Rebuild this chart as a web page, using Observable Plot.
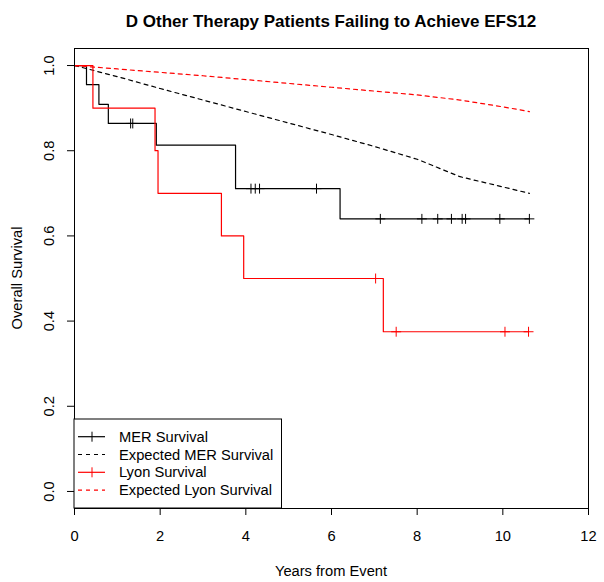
<!DOCTYPE html>
<html><head><meta charset="utf-8">
<script src="https://cdn.jsdelivr.net/npm/d3@7"></script>
<script src="https://cdn.jsdelivr.net/npm/@observablehq/plot@0.6"></script>
<style>
body{margin:0;background:#fff;}
#chart{position:relative;width:604px;height:582px;}
</style>
</head><body><div id="chart"></div>
<script>
// ---- data ----
const titleText = "D Other Therapy Patients Failing to Achieve EFS12";
const xLabel = "Years from Event";
const yLabel = "Overall Survival";
const xTicks = [0, 2, 4, 6, 8, 10, 12];
const yTicks = [0, 0.2, 0.4, 0.6, 0.8, 1.0];

// MER Kaplan-Meier
const merTimes = [0, 0.28, 0.57, 0.79, 1.91, 3.76, 6.20, 10.62];
const merSurv  = [1, 0.955, 0.909, 0.864, 0.813, 0.711, 0.640, 0.640];
const merCensorTimes = [1.31, 1.36, 4.12, 4.22, 4.32, 5.65, 7.14, 8.11, 8.48, 8.80, 9.05, 9.13, 9.93, 10.62];

// Lyon Kaplan-Meier
const lyonTimes = [0, 0.43, 1.88, 1.95, 3.43, 3.95, 7.21, 10.60];
const lyonSurv  = [1, 0.90, 0.80, 0.70, 0.60, 0.50, 0.375, 0.375];
const lyonCensorTimes = [7.03, 7.51, 10.05, 10.60];

// Expected survival curves
const expYears = [0, 1, 2, 3, 4, 5, 6, 7, 8, 9, 10, 10.62];
const expMer   = [1, 0.974, 0.946, 0.919, 0.892, 0.865, 0.838, 0.810, 0.780, 0.739, 0.715, 0.700];
const expLyon  = [1, 0.992, 0.984, 0.976, 0.967, 0.958, 0.949, 0.940, 0.931, 0.919, 0.903, 0.892];

// Legend
const legendLabels = ["MER Survival", "Expected MER Survival", "Lyon Survival", "Expected Lyon Survival"];
const legendColors = ["black", "black", "red", "red"];
const legendDashed = [false, true, false, true];
const legendPlus   = [true, false, true, false];

(function () {
// ---- tables ----
const rows = (ts, ss) => ts.map((t, i) => ({t, s: ss[i]}));
function stepAt(ts, ss, t) { let v = ss[0]; for (let i = 0; i < ts.length; i++) if (ts[i] <= t) v = ss[i]; return v; }
const merRows = rows(merTimes, merSurv);
const lyonRows = rows(lyonTimes, lyonSurv);
const merCens = merCensorTimes.map(t => ({t, s: stepAt(merTimes, merSurv, t)}));
const lyonCens = lyonCensorTimes.map(t => ({t, s: stepAt(lyonTimes, lyonSurv, t)}));
const expMerRows = rows(expYears, expMer);
const expLyonRows = rows(expYears, expLyon);

const FONT = "'Liberation Sans', Arial, Helvetica, sans-serif";
const FS = "14.7px";
const W = 604, H = 582;

const plot = Plot.plot({
  width: W, height: H,
  marginLeft: 74, marginRight: 16, marginTop: 48, marginBottom: 74,
  style: {fontFamily: FONT, fontSize: FS, color: "black", background: "white", overflow: "visible"},
  x: {domain: [0, 12]},
  y: {domain: [-0.04, 1.04]},
  marks: [
    Plot.axisX({ticks: xTicks, tickSize: 7, tickPadding: 15, label: null, fontSize: FS, tickFormat: d => String(d)}),
    Plot.axisY({ticks: yTicks, tickSize: 7, tickPadding: 14, tickRotate: -90, label: null, fontSize: FS, tickFormat: d3.format(".1f")}),
    Plot.line(merRows, {x: "t", y: "s", curve: "step-after", stroke: "black", strokeWidth: 1.2}),
    Plot.dot(merCens, {x: "t", y: "s", symbol: "plus", r: 3.3, stroke: "black", strokeWidth: 1}),
    Plot.line(expMerRows, {x: "t", y: "s", stroke: "black", strokeWidth: 1.2, strokeDasharray: "4,4"}),
    Plot.line(lyonRows, {x: "t", y: "s", curve: "step-after", stroke: "red", strokeWidth: 1.2}),
    Plot.dot(lyonCens, {x: "t", y: "s", symbol: "plus", r: 3.3, stroke: "red", strokeWidth: 1}),
    Plot.line(expLyonRows, {x: "t", y: "s", stroke: "red", strokeWidth: 1.2, strokeDasharray: "4,4"}),
    Plot.frame({stroke: "black", strokeWidth: 1})
  ]
});

document.getElementById("chart").appendChild(plot);

const svg = d3.select(plot);
const xs = plot.scale("x"), ys = plot.scale("y");
const fLeft = xs.range[0], fRight = xs.range[1];
const fTop = ys.range[1], fBottom = ys.range[0];
const cx = (fLeft + fRight) / 2, cy = (fTop + fBottom) / 2;

// title
svg.append("text").attr("x", cx).attr("y", 27).attr("text-anchor", "middle")
  .attr("font-family", FONT).attr("font-weight", "bold").attr("font-size", "17px").text(titleText);
// axis labels
svg.append("text").attr("x", cx).attr("y", 576).attr("text-anchor", "middle")
  .attr("font-family", FONT).attr("font-size", FS).text(xLabel);
svg.append("text").attr("transform", `translate(22,${cy}) rotate(-90)`).attr("text-anchor", "middle")
  .attr("font-family", FONT).attr("font-size", FS).text(yLabel);

// legend (bottom-left inside frame)
const lg = svg.append("g");
const lgW = 207.5, lgH = 89, rowH = 17.8;
lg.append("rect").attr("x", fLeft).attr("y", fBottom - lgH).attr("width", lgW).attr("height", lgH)
  .attr("fill", "white").attr("stroke", "black").attr("stroke-width", 1);
legendLabels.forEach((lab, i) => {
  const yy = fBottom - lgH + 17.7 + i * rowH;
  lg.append("line").attr("x1", fLeft + 4).attr("x2", fLeft + 31).attr("y1", yy).attr("y2", yy)
    .attr("stroke", legendColors[i]).attr("stroke-width", 1.2)
    .attr("stroke-dasharray", legendDashed[i] ? "4,4" : null);
  if (legendPlus[i]) {
    lg.append("line").attr("x1", fLeft + 18).attr("x2", fLeft + 18).attr("y1", yy - 5).attr("y2", yy + 5)
      .attr("stroke", legendColors[i]).attr("stroke-width", 1);
  }
  lg.append("text").attr("x", fLeft + 45).attr("y", yy + 5).attr("text-anchor", "start")
    .attr("font-family", FONT).attr("font-size", FS).text(lab);
});
})();
</script>
</body></html>
